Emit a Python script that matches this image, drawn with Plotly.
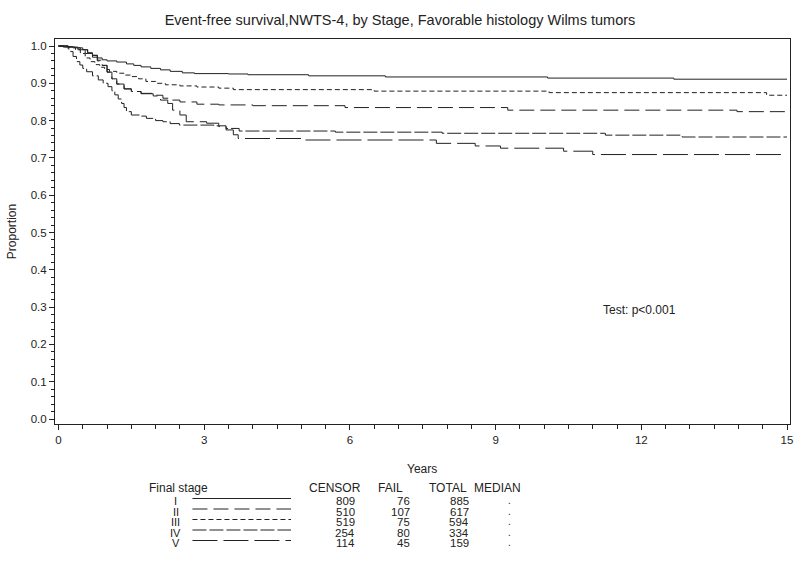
import plotly.graph_objects as go

# ---------------- data ----------------
stage_labels = ["I", "II", "III", "IV", "V"]
censor = [809, 510, 519, 254, 114]
fail = [76, 107, 75, 80, 45]
total = [885, 617, 594, 334, 159]
median = [".", ".", ".", ".", "."]

t_I = [0, 0.15, 0.3, 0.45, 0.6, 0.7, 0.8, 0.9, 1.0, 1.2, 1.4, 1.55, 1.7, 1.9, 2.1, 2.3, 2.55, 2.8, 3.5, 3.9, 5.15, 6.73, 10.07, 12.67, 15.0]
s_I = [1.0, 0.998, 0.995, 0.99, 0.982, 0.975, 0.968, 0.963, 0.96, 0.957, 0.952, 0.948, 0.944, 0.94, 0.936, 0.932, 0.928, 0.926, 0.925, 0.923, 0.920, 0.917, 0.914, 0.911, 0.911]

t_II = [0, 0.2, 0.35, 0.5, 0.6, 0.7, 0.8, 0.9, 1.0, 1.1, 1.2, 1.35, 1.5, 1.7, 1.95, 2.15, 2.3, 2.5, 2.85, 3.3, 4.0, 5.9, 9.25, 13.97, 15.0]
s_II = [1.0, 0.998, 0.995, 0.99, 0.983, 0.975, 0.962, 0.948, 0.93, 0.912, 0.898, 0.885, 0.878, 0.873, 0.868, 0.86, 0.855, 0.85, 0.844, 0.842, 0.840, 0.835, 0.828, 0.824, 0.824]

t_III = [0, 0.2, 0.35, 0.45, 0.55, 0.65, 0.75, 0.85, 0.95, 1.05, 1.2, 1.35, 1.5, 1.65, 1.8, 2.0, 2.2, 2.5, 2.85, 3.3, 3.6, 6.5, 10.1, 14.58, 15.0]
s_III = [1.0, 0.997, 0.99, 0.98, 0.968, 0.958, 0.95, 0.943, 0.937, 0.932, 0.927, 0.922, 0.918, 0.912, 0.905, 0.9, 0.896, 0.893, 0.89, 0.887, 0.883, 0.879, 0.875, 0.868, 0.868]

t_IV = [0, 0.1, 0.2, 0.25, 0.3, 0.37, 0.44, 0.5, 0.58, 0.7, 0.82, 0.92, 1.02, 1.1, 1.16, 1.23, 1.3, 1.35, 1.4, 1.5, 1.7, 1.81, 2.0, 2.15, 2.3, 2.49, 3.2, 3.45, 3.72, 5.7, 7.9, 11.26, 12.84, 15.0]
s_IV = [1.0, 0.997, 0.992, 0.985, 0.972, 0.958, 0.949, 0.94, 0.931, 0.92, 0.909, 0.9, 0.891, 0.88, 0.869, 0.858, 0.846, 0.835, 0.824, 0.815, 0.812, 0.806, 0.8, 0.797, 0.792, 0.788, 0.786, 0.779, 0.772, 0.769, 0.766, 0.761, 0.756, 0.756]

t_V = [0, 0.2, 0.4, 0.55, 0.7, 0.8, 0.9, 1.0, 1.1, 1.2, 1.35, 1.5, 1.7, 1.95, 2.1, 2.25, 2.35, 2.5, 2.63, 3.05, 3.3, 3.45, 3.6, 3.7, 5.0, 7.78, 8.58, 9.1, 10.4, 11.0, 15.0]
s_V = [1.0, 0.997, 0.99, 0.98, 0.97, 0.96, 0.948, 0.93, 0.912, 0.898, 0.885, 0.878, 0.872, 0.866, 0.855, 0.846, 0.828, 0.815, 0.797, 0.793, 0.784, 0.775, 0.762, 0.752, 0.748, 0.739, 0.732, 0.726, 0.718, 0.709, 0.709]

x_ticks = [0, 3, 6, 9, 12, 15]
y_ticks = [0.0, 0.1, 0.2, 0.3, 0.4, 0.5, 0.6, 0.7, 0.8, 0.9, 1.0]

title_text = "Event-free survival,NWTS-4, by Stage, Favorable histology Wilms tumors"
test_text = "Test: p<0.001"

# ---------------- styling ----------------
W, H = 800, 561
ML, MR, MT, MB = 55, 7, 39, 137
PW, PH = W - ML - MR, H - MT - MB
FONT = "Arial, Liberation Sans, sans-serif"
INK = "#222222"
dashes = ["solid", "15px,6px", "5px,3px", "14px,3px", "25px,6px"]

def px(x):
    return (x - ML) / PW

def py(y):
    return (H - MB - y) / PH

fig = go.Figure()
series = [(t_I, s_I), (t_II, s_II), (t_III, s_III), (t_IV, s_IV), (t_V, s_V)]
for lab, (t, s), d in zip(stage_labels, series, dashes):
    fig.add_trace(go.Scatter(x=t, y=s, mode="lines", line_shape="hv",
                             line=dict(color=INK, width=1, dash=d),
                             name=lab, showlegend=False, hoverinfo="skip"))

annotations = []
def txt(x, y, s, anchor="center", size=12, angle=0, h=None):
    a = dict(x=px(x), y=py(y), xref="paper", yref="paper", text=s,
             showarrow=False, xanchor=anchor, yanchor="middle",
             textangle=angle, borderpad=0,
             font=dict(family=FONT, size=size, color=INK))
    if h is not None:
        a["height"] = h
    annotations.append(a)

txt(642, 310, test_text, size=12)
txt(423, 469, "Years", size=12)
txt(12, 232, "Proportion", size=12, angle=-90)

# table header
hy = 488
txt(148, hy, "Final stage", anchor="left")
txt(336, hy, "CENSOR")
txt(392, hy, "FAIL")
txt(450, hy, "TOTAL")
txt(499, hy, "MEDIAN")

shapes = []
row_y = [500.5, 511, 521.5, 532, 542.5]
for i, lab in enumerate(stage_labels):
    y = row_y[i]
    txt(176, y, lab, size=11, h=9)
    txt(357, y, str(censor[i]), anchor="right", size=11.5, h=9)
    txt(412, y, str(fail[i]), anchor="right", size=11.5, h=9)
    txt(471.5, y, str(total[i]), anchor="right", size=11.5, h=9)
    txt(511, y, median[i], size=10, h=9)
    shapes.append(dict(type="line", xref="paper", yref="paper",
                       x0=px(193), x1=px(292), y0=py(y - 2), y1=py(y - 2),
                       line=dict(color=INK, width=1, dash=dashes[i])))

x0_px, x15_px = 58.5, 790.0
ppy = (x15_px - x0_px) / 15
xr = [-(x0_px - ML) / ppy, (W - MR - x0_px) / ppy]
y1_px, y0_px = 46.0, 419.0
ppv = (y0_px - y1_px)
yr = [-((H - MB) - y0_px) / ppv, 1 + (y1_px - MT) / ppv]

axis_common = dict(showline=True, linecolor=INK, linewidth=1, mirror=True,
                   ticks="outside", ticklen=5, tickcolor=INK, showgrid=False,
                   zeroline=False, tickfont=dict(family=FONT, size=11.5, color=INK))

fig.update_layout(
    width=W, height=H,
    margin=dict(l=ML, r=MR, t=MT, b=MB, pad=0),
    paper_bgcolor="white", plot_bgcolor="white",
    title=dict(text=title_text, x=0.5, xref="container", xanchor="center",
               y=1 - 20 / H, yref="container", yanchor="middle",
               font=dict(family=FONT, size=14.5, color=INK)),
    xaxis=dict(range=xr, tickvals=x_ticks, ticktext=[str(v) for v in x_ticks],
               minor=dict(dtick=0.5, tick0=0, ticks="outside", ticklen=4, tickcolor=INK),
               **axis_common),
    yaxis=dict(range=yr, tickvals=y_ticks, ticktext=[f"{v:.1f}" for v in y_ticks],
               minor=dict(dtick=0.02, tick0=0, ticks="outside", ticklen=3, tickcolor=INK),
               **axis_common),
    annotations=annotations,
    shapes=shapes,
)

fig.write_html("out.html", config={"displayModeBar": False},
               post_script="document.body.style.margin='0';document.body.style.overflow='hidden';")
